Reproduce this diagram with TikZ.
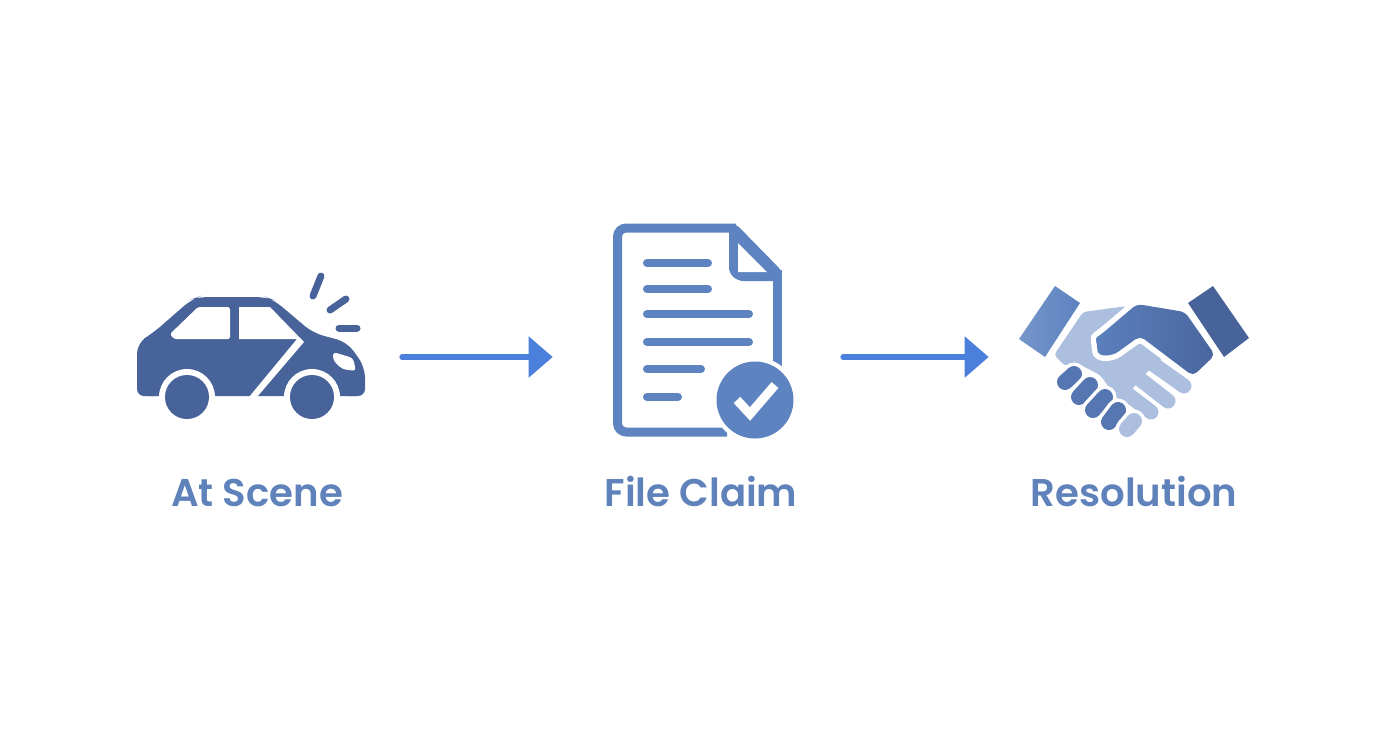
\documentclass[tikz,border=0pt]{standalone}
\usepackage{fontspec}
\setmainfont[BoldFont={Poppins SemiBold}]{Poppins}
\usetikzlibrary{arrows.meta}
\definecolor{carblue}{HTML}{48629A}
\definecolor{docblue}{HTML}{5D83C0}
\definecolor{arrowblue}{HTML}{4A7FDB}
\definecolor{labelblue}{HTML}{5F82BB}
\definecolor{palehand}{HTML}{ADBFDF}
\begin{document}
\begin{tikzpicture}[
x=0.02cm, y=-0.02cm,
iconbox/.style={inner sep=0pt, minimum height=1cm},
steplabel/.style={anchor=base, text=labelblue, font=\fontsize{22}{26}\selectfont\bfseries},
steparrow/.style={draw=arrowblue, line width=0.11cm, line cap=round, shorten <=1.6pt, -{Triangle[length=0.48cm, width=0.8cm]}},
docline/.style={draw=docblue, line width=0.16cm, line cap=round},
sparkline/.style={draw=carblue, line width=0.14cm, line cap=round},
finger/.style={line width=0.32cm, line cap=round},
]
\useasboundingbox (0,0) rectangle (1392,752);

%Nodes
\node[iconbox, minimum width=5.22cm] (car) at (268.5,357) {};
\node[iconbox, minimum width=5.74cm] (doc) at (696.5,357) {};
\node[iconbox, minimum width=5.8cm] (hands) at (1134,357) {};
\node[steplabel] (car_label) at (257,506) {At Scene};
\node[steplabel] (doc_label) at (701,506) {File Claim};
\node[steplabel] (hands_label) at (1134,506) {Resolution};

%Car
\fill[carblue, rounded corners=6] (137,396) -- (137,343) -- (153,333) -- (192,299) -- (198,297) -- (266,297) -- (274,300) -- (313,333) -- (347,342) -- (365,367) -- (365,396) -- cycle;
\fill[white] (130,397) rectangle (370,410);
\fill[carblue, rounded corners=4] (137,380) -- (137,396) -- (162,396) -- (162,380) -- cycle;
\fill[carblue, rounded corners=4] (340,380) -- (340,396) -- (365,396) -- (365,380) -- cycle;
\fill[white] (187,397) circle (28) (312,397) circle (28);
\fill[carblue] (187,397) circle (22) (312,397) circle (22);
\fill[white, rounded corners=1] (198,307) -- (230,307) -- (230,339) -- (174,339) -- (170,334) -- cycle;
\fill[white] (239,307) -- (270,307) -- (304,342) -- (257,397) -- (249,397) -- (297,339) -- (239,339) -- cycle;
\fill[white, rounded corners=2] (333,352) -- (353,358) -- (356,371) -- (342,369) -- (333,360) -- cycle;
\draw[sparkline] (321,276) -- (313,296);
\draw[sparkline] (346,299) -- (330,310);
\draw[sparkline] (339,328) -- (357,328);

%Document
\draw[docblue, line width=0.18cm, rounded corners=5] (727,432) -- (617.5,432) -- (617.5,228) -- (736,228);
\draw[docblue, line width=0.18cm] (777.5,270) -- (777.5,370);
\fill[docblue, rounded corners=3] (729,224) -- (736,224) -- (782,271) -- (782,281) -- (738,281) -- (729,273) -- cycle;
\fill[white] (738,243) -- (738,272) -- (767,272) -- cycle;
\draw[docline] (647,263) -- (708,263);
\draw[docline] (647,289) -- (708,289);
\draw[docline] (647,314) -- (749,314);
\draw[docline] (647,342) -- (749,342);
\draw[docline] (647,369) -- (701,369);
\draw[docline] (647,397) -- (678,397);
\fill[white] (755,400) circle (43);
\fill[docblue] (755,400) circle (38.5);
\draw[white, line width=0.18cm, line join=miter] (737,400) -- (750,414) -- (775,385);

%Handshake
\shade[left color=docblue!85!white, right color=docblue] (1055,286) -- (1080,303) -- (1045,357) -- (1019,339) -- cycle;
\fill[palehand, rounded corners=2] (1083,312) -- (1127,306) -- (1097,340) -- (1138,338) -- (1163,358) -- (1147,372) -- (1134,387) -- (1120,402) -- (1100,375) -- (1075,362) -- (1065,366) -- (1054,355) -- cycle;
\foreach \ax/\ay/\bx/\by in {1153/364/1184/386, 1141/380/1168/401, 1126/393/1151/412} {
  \draw[palehand, line width=0.3cm, line cap=round] (\ax,\ay) -- (\bx,\by);
}
\shade[preaction={draw=white, line width=0.22cm}, rounded corners=3, left color=docblue!90!carblue, right color=carblue!90!docblue] (1137,304) -- (1185,312) -- (1215,355) -- (1193,376) -- (1140,336) -- (1122,349) .. controls (1112,356) and (1098,358) .. (1097,345) .. controls (1096,338) .. (1104,332) -- cycle;
\fill[carblue] (1213,286) -- (1249,338) -- (1224,357) -- (1188,303) -- cycle;
\foreach \ax/\ay/\bx/\by in {1065/382/1074/374, 1079/397/1090/385, 1093/410/1105/397, 1109/422/1118/410} {
  \draw[white, line width=0.46cm, line cap=round] (\ax,\ay) -- (\bx,\by);
  \draw[docblue!60!carblue, finger] (\ax,\ay) -- (\bx,\by);
}
\draw[white, line width=0.46cm, line cap=round] (1127,429) -- (1134,421);
\draw[palehand, finger] (1127,429) -- (1134,421);

%Lines
\draw[steparrow] (car) -- (doc);
\draw[steparrow] (doc) -- (hands);
\end{tikzpicture}
\end{document}
